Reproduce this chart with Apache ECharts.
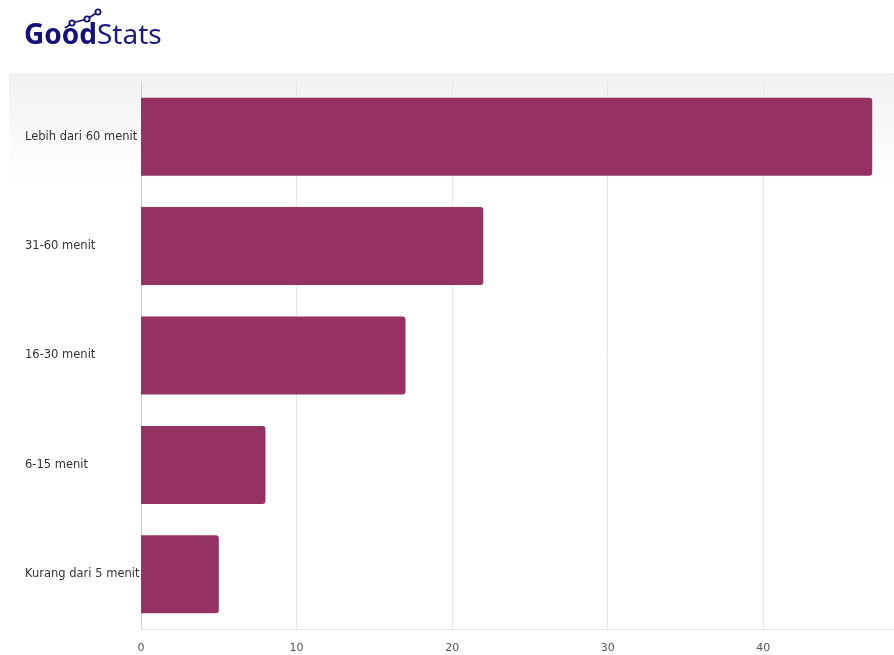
<!DOCTYPE html>
<html>
<head>
<meta charset="utf-8">
<script src="https://cdn.jsdelivr.net/npm/echarts@6/dist/echarts.min.js"></script>
<style>
  html, body { margin: 0; padding: 0; background: #fff; }
  #chart { width: 894px; height: 655px; }
</style>
</head>
<body>
<div id="chart"></div>
<script>
const categories = ['Lebih dari 60 menit', '31-60 menit', '16-30 menit', '6-15 menit', 'Kurang dari 5 menit'];
const values = [47, 22, 17, 8, 5];
const tickStep = 10;

const myChart = echarts.init(document.getElementById('chart'));
const font = '"DejaVu Sans", "Noto Sans", sans-serif';
const logoFont = '"Noto Sans", Lato, sans-serif';

const options = {
  animation: false,
  backgroundColor: '#fff',
  textStyle: { fontFamily: font },
  graphic: [
    {
      type: 'rect',
      z: -10,
      silent: true,
      shape: { x: 9, y: 73, width: 885, height: 110 },
      style: {
        fill: new echarts.graphic.LinearGradient(0, 0, 0, 1, [
          { offset: 0, color: '#f1f1f1' },
          { offset: 1, color: '#ffffff' }
        ])
      }
    },
    {
      type: 'text',
      left: 24,
      top: 22,
      style: {
        text: '{b|Good}{r|Stats}',
        rich: {
          b: { fontSize: 28, fontWeight: 'bold', fill: '#14127a', fontFamily: logoFont },
          r: { fontSize: 28, fontWeight: 'normal', fill: '#1c1a86', fontFamily: logoFont }
        }
      }
    },
    {
      type: 'polyline',
      shape: { points: [[65, 28], [72, 23], [87, 19], [98, 12]] },
      style: { stroke: '#14127a', lineWidth: 1.8, fill: null }
    },
    { type: 'circle', shape: { cx: 72, cy: 23, r: 2.6 }, style: { fill: '#fff', stroke: '#14127a', lineWidth: 1.8 } },
    { type: 'circle', shape: { cx: 87, cy: 19, r: 2.6 }, style: { fill: '#fff', stroke: '#14127a', lineWidth: 1.8 } },
    { type: 'circle', shape: { cx: 98, cy: 12, r: 2.6 }, style: { fill: '#fff', stroke: '#14127a', lineWidth: 1.8 } }
  ],
  grid: {
    left: 141,
    right: 0,
    top: 82,
    bottom: 26,
    containLabel: false
  },
  xAxis: {
    type: 'value',
    min: 0,
    max: 48.4,
    interval: tickStep,
    axisLine: { show: true, lineStyle: { color: '#e3e3e3' } },
    axisTick: { show: false },
    splitLine: { show: true, lineStyle: { color: '#e6e6e6' } },
    axisLabel: {
      color: '#555',
      fontSize: 11,
      margin: 14,
      showMaxLabel: false,
      formatter: v => (v % tickStep === 0 ? v : '')
    }
  },
  yAxis: {
    type: 'category',
    inverse: true,
    data: categories,
    axisLine: { show: true, lineStyle: { color: '#cfcfcf' } },
    axisTick: { show: false },
    axisLabel: {
      color: '#333',
      fontSize: 11.5,
      align: 'left',
      margin: 116
    }
  },
  series: [
    {
      type: 'bar',
      data: values,
      barWidth: 78,
      itemStyle: {
        color: '#963262',
        borderRadius: [0, 3, 3, 0]
      }
    }
  ]
};

myChart.setOption(options);
</script>
</body>
</html>
